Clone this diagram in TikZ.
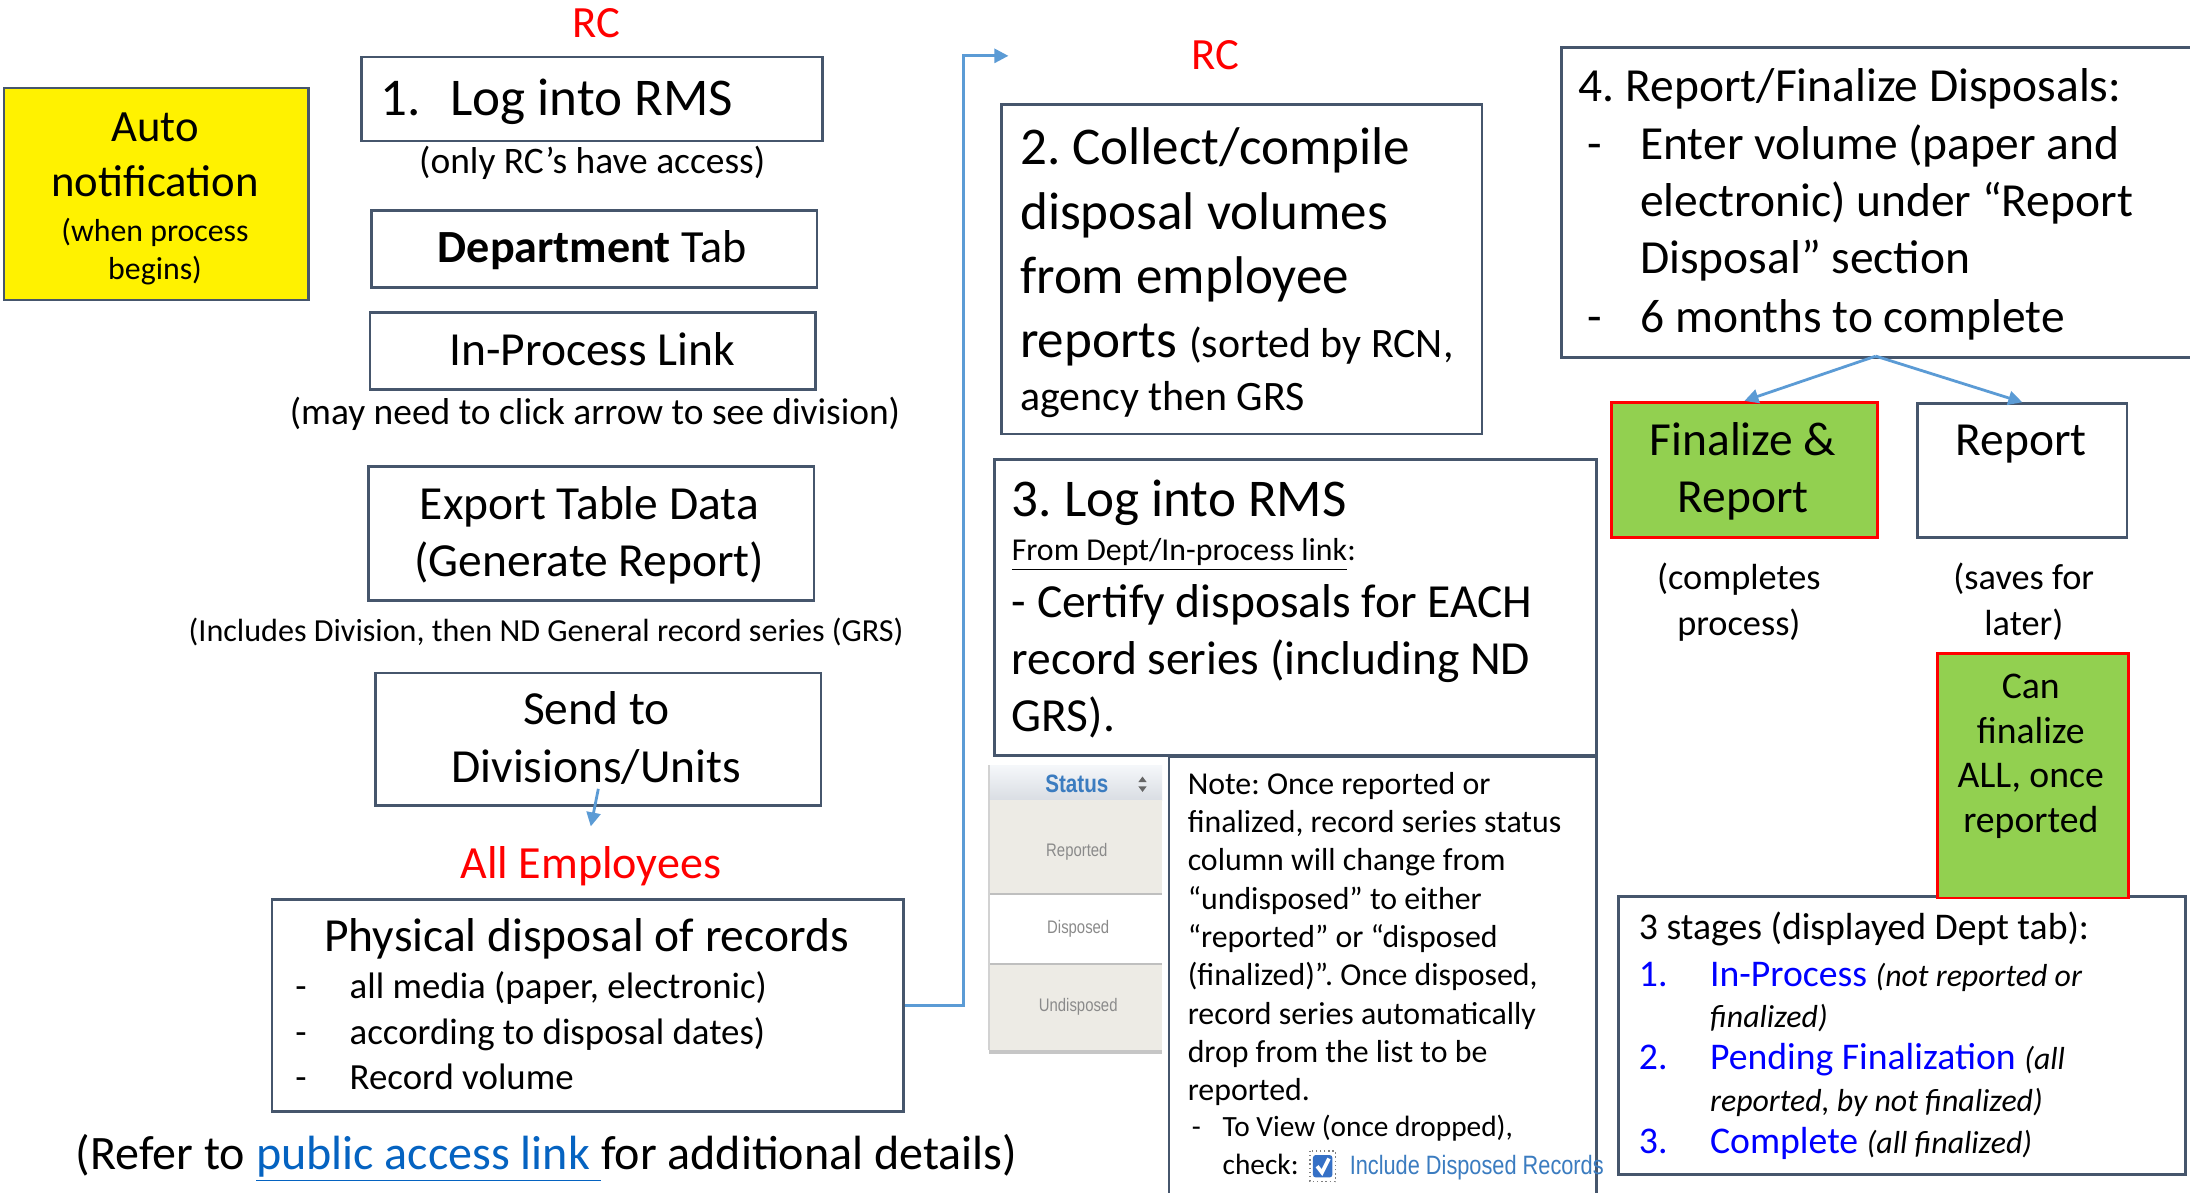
\documentclass[tikz,border=0pt]{standalone}
\usepackage{fontspec}
\setmainfont{Carlito}
\newfontfamily\uifont[FakeStretch=0.82]{Liberation Sans}
\usetikzlibrary{arrows.meta,calc}
\frenchspacing

\definecolor{edge}{HTML}{46566C}
\definecolor{flow}{HTML}{5B9BD5}
\definecolor{leaf}{HTML}{92D050}
\definecolor{hlink}{HTML}{0563C1}
\definecolor{stage}{HTML}{0000FF}
\definecolor{uiblue}{HTML}{3B7CC0}
\definecolor{uigray}{HTML}{8A8A8A}
\definecolor{rowfill}{HTML}{EDEBE5}
\definecolor{hdtop}{HTML}{F5F7FA}
\definecolor{hdbot}{HTML}{D9DDE3}

\newcommand\fsz[2]{\fontsize{#1pt}{#2pt}\selectfont}
\newcommand\remark[1]{{\fsz{11.4}{15}\itshape #1}}

% multi-line text nodes are placed by the baseline of their last line
\tikzset{
  box/.style={draw=edge, line width=0.9pt, inner sep=0pt, anchor=north west},
  wh/.style 2 args={minimum width={#1*0.5pt}, minimum height={#2*0.5pt}},
  ctxt/.style={inner sep=0pt, anchor=base, align=center},
  ltxt/.style={inner sep=0pt, anchor=base west, align=left},
  flowline/.style={draw=flow, line width=1pt},
  flowarrow/.style={flowline, -{Triangle[length=5pt,width=5pt]}},
  greenbox/.style={box, fill=leaf, draw=red, line width=1pt},
}

\begin{document}
\begin{tikzpicture}[x=0.5pt, y=-0.5pt]
\useasboundingbox (0,0) rectangle (1568,854);
\clip (0,0) rectangle (1568,854);
\fill[white] (0,0) rectangle (1568,854);

% ---------- left column: RC steps ----------
\node[ctxt, text=red, font=\fsz{16}{19}] (rcA) at (427,27) {RC};

\node[box, fill=yellow, wh={218}{152}] (auto) at (2,62) {};
\node[ctxt, font=\fsz{16}{20}] (autoT) at (111,141) {Auto\\notification};
\node[ctxt, font=\fsz{11.4}{13.5}] (autoS) at (111,200) {(when process\\begins)};

\node[box, wh={330}{60}] (login) at (258,40) {};
\node[ltxt, font=\fsz{19}{23}] (loginT) at (272,83) {\makebox[25pt][l]{1.}Log into RMS};
\node[ctxt, font=\fsz{13.4}{16}] (loginS) at (424,124) {(only RC’s have access)};

\node[box, wh={319}{55}] (dept) at (265,150) {};
\node[ctxt, font=\fsz{16.5}{20}] (deptT) at (424,188) {\textbf{Department} Tab};

\node[box, wh={319}{55}] (inproc) at (264,223) {};
\node[ctxt, font=\fsz{17}{20}] (inprocT) at (424,262) {In-Process Link};
\node[ctxt, font=\fsz{13.4}{16}] (inprocS) at (426,304) {(may need to click arrow to see division)};

\node[box, wh={319}{96}] (export) at (263,333) {};
\node[ctxt, font=\fsz{17}{20.5}] (exportT) at (422,413) {Export Table Data\\(Generate Report)};
\node[ctxt, font=\fsz{11.5}{14}] (exportS) at (391,459) {(Includes Division, then ND General record series (GRS)};

\node[box, wh={319}{95}] (send) at (268,481) {};
\node[ctxt, font=\fsz{17}{20.5}] (sendT) at (427,560) {Send to\\Divisions/Units};

\node[ctxt, text=red, font=\fsz{16.5}{20}] (emp) at (423,629) {All Employees};
\draw[flowarrow] ([yshift=6.5pt]send.south) -- ([yshift=7pt]emp.north);

\node[box, wh={452}{152}] (phys) at (194,643) {};
\node[ctxt, font=\fsz{17}{20}] (physT) at (420,681) {Physical disposal of records};
\node[ltxt, font=\fsz{13.2}{16.25}] (physL) at (211,780)
  {\makebox[19.5pt][l]{-}all media (paper, electronic)\\
   \makebox[19.5pt][l]{-}according to disposal dates)\\
   \makebox[19.5pt][l]{-}Record volume};

\node[ltxt, font=\fsz{17.2}{20}] (refer) at (54,837)
  {(Refer to \textcolor{hlink}{\underline{public access link\ }}for additional details)};

% connector up to the second RC stage
\coordinate (bend) at (690,40);
\coordinate (rcTip) at (722,40);
\draw[flowarrow] (phys.east) -| (bend) -- (rcTip);

% ---------- middle column ----------
\node[ctxt, text=red, font=\fsz{16}{19}] (rcB) at (870,50) {RC};

\node[box, wh={344}{236}] (collect) at (716,74) {};
\node[ltxt, font=\fsz{19}{23}] (collectT) at (730,256)
  {2. Collect/compile\\disposal volumes\\from employee\\reports {\fsz{15}{23}(sorted by RCN,}};
\node[ltxt, font=\fsz{15}{18}] (collectS) at (730,294) {agency then GRS};

\node[box, wh={431}{212}] (certify) at (711,328) {};
\node[ltxt, font=\fsz{19}{23}] (certifyT) at (724,370) {3. Log into RMS};
\node[ltxt, font=\fsz{11.4}{14}] (certifyS) at (724,401) {\underline{From Dept/In-process link}:};
\node[ltxt, font=\fsz{17}{20.5}] (certifyL) at (724,524)
  {- Certify disposals for EACH\\record series (including ND\\GRS).};

% status column excerpt
\shade[top color=hdtop, bottom color=hdbot] (708,548) rectangle (832,573);
\fill[rowfill] (708,573) rectangle (832,640);
\fill[white] (708,640) rectangle (832,690);
\fill[rowfill] (708,690) rectangle (832,752);
\draw[gray!50, line width=0.6pt] (708,640) -- (832,640) (708,690) -- (832,690);
\fill[gray!45] (708,752) rectangle (832,755);
\draw[gray!35, line width=0.6pt] (708,548) -- (708,752);
\node[inner sep=0pt, text=uiblue, font=\uifont\bfseries\fsz{9}{11}] (status) at (771,561) {Status};
\fill[gray!80!black] (815,560) -- (821,560) -- (818,556) -- cycle;
\fill[gray!80!black] (815,563) -- (821,563) -- (818,567) -- cycle;
\node[inner sep=0pt, text=uigray, font=\uifont\fsz{6.5}{8}] (rowA) at (771,610) {Reported};
\node[inner sep=0pt, text=uigray, font=\uifont\fsz{6.5}{8}] (rowB) at (772,665) {Disposed};
\node[inner sep=0pt, text=uigray, font=\uifont\fsz{6.5}{8}] (rowC) at (772,721) {Undisposed};

% note panel
\node[box, wh={306}{340}] (note) at (836,541) {};
\node[ltxt, font=\fsz{11.4}{13.7}] (noteT) at (850,788)
  {Note: Once reported or\\finalized, record series status\\column will change from\\
   “undisposed” to either\\“reported” or “disposed\\(finalized)”. Once disposed,\\
   record series automatically\\drop from the list to be\\reported.};
\node[ltxt, font=\fsz{10.5}{13.5}] (noteL) at (853,841)
  {\makebox[11pt][l]{-}To View (once dropped),\\\hspace*{11pt}check:};
\draw[gray, densely dotted, line width=0.5pt] (938,824) rectangle (956,846);
\fill[uiblue!90!blue, rounded corners=1pt] (940,827) rectangle (954,843);
\draw[white, line width=1.3pt] (943,835) -- (946.5,839.5) -- (951.5,829.5);
\node[ltxt, text=uiblue, font=\uifont\fsz{9.5}{11}] (include) at (966,841) {Include Disposed Records};

% ---------- right column ----------
\node[box, wh={520}{222}] (final) at (1117,33) {};
\node[ltxt, font=\fsz{17}{20.5}] (finalT) at (1130,73) {4. Report/Finalize Disposals:};
\node[ltxt, font=\fsz{17}{20.5}] (finalL) at (1136,238)
  {\makebox[19pt][l]{-}Enter volume (paper and\\
   \hspace*{19pt}electronic) under “Report\\
   \hspace*{19pt}Disposal” section\\[0.5pt]
   \makebox[19pt][l]{-}6 months to complete};

\node[greenbox, wh={190}{97}] (fin) at (1153,287) {};
\node[ctxt, font=\fsz{17}{20.5}] (finT) at (1248,367) {Finalize \&\\Report};
\node[box, wh={150}{96}] (rep) at (1372,288) {};
\node[ctxt, font=\fsz{17}{20.5}] (repT) at (1447,326) {Report};

\coordinate (split) at (1343,255);
\draw[flowarrow] (split) -- (fin.north);
\draw[flowarrow] (split) -- (rep.north);

\node[ctxt, font=\fsz{13}{16.5}] (finS) at (1245,455) {(completes\\process)};
\node[ctxt, font=\fsz{13}{16.5}] (repS) at (1449,455) {(saves for\\later)};

\node[box, wh={406}{199}] (stages) at (1158,641) {};
\node[greenbox, wh={137}{175}] (can) at (1386,467) {};
\node[ctxt, font=\fsz{13.5}{16}] (canT) at (1454,596) {Can\\finalize\\ALL, once\\reported};

\node[ltxt, font=\fsz{13.5}{15}] (stagesT) at (1173,673) {3 stages (displayed Dept tab):};
\node[ltxt, font=\fsz{13.5}{15}] (stagesL) at (1173,826)
  {\textcolor{stage}{\makebox[25.5pt][l]{1.}In-Process} \remark{(not reported or}\\
   \hspace*{25.5pt}\remark{finalized)}\\
   \textcolor{stage}{\makebox[25.5pt][l]{2.}Pending Finalization} \remark{(all}\\
   \hspace*{25.5pt}\remark{reported, by not finalized)}\\
   \textcolor{stage}{\makebox[25.5pt][l]{3.}Complete} \remark{(all finalized)}};
\end{tikzpicture}
\end{document}
